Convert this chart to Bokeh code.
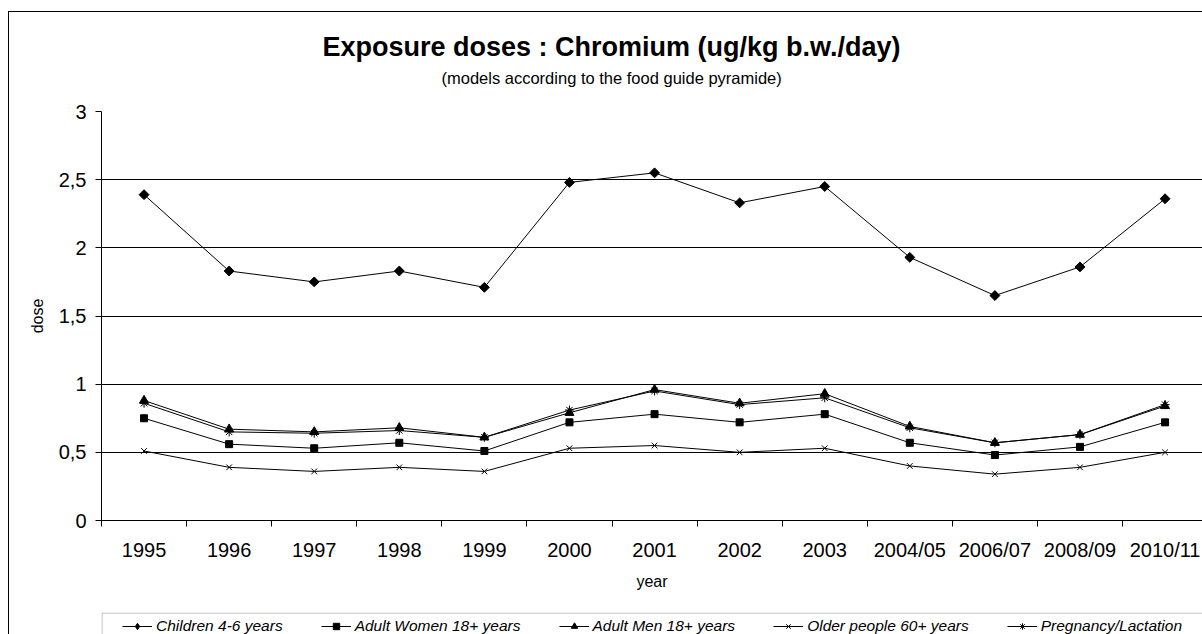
import math
from bokeh.plotting import figure
from bokeh.layouts import column
from bokeh.models import (Range1d, FixedTicker, Legend, LegendItem, Title,
                          BoxAnnotation)
from bokeh.embed import file_html
from bokeh.resources import INLINE

# ---- data ----
years = ["1995", "1996", "1997", "1998", "1999", "2000", "2001", "2002",
         "2003", "2004/05", "2006/07", "2008/09", "2010/11"]
children = [2.39, 1.83, 1.75, 1.83, 1.71, 2.48, 2.55, 2.33, 2.45, 1.93, 1.65, 1.86, 2.36]
women = [0.75, 0.56, 0.53, 0.57, 0.51, 0.72, 0.78, 0.72, 0.78, 0.57, 0.48, 0.54, 0.72]
men = [0.88, 0.67, 0.65, 0.68, 0.61, 0.79, 0.96, 0.86, 0.93, 0.69, 0.57, 0.63, 0.84]
older = [0.51, 0.39, 0.36, 0.39, 0.36, 0.53, 0.55, 0.50, 0.53, 0.40, 0.34, 0.39, 0.50]
pregnancy = [0.86, 0.65, 0.64, 0.66, 0.61, 0.81, 0.95, 0.85, 0.90, 0.68, 0.57, 0.63, 0.85]

series_names = ["Children 4-6 years", "Adult Women 18+ years", "Adult Men 18+ years",
                "Older people 60+ years", "Pregnancy/Lactation"]
y_ticks = [0, 0.5, 1, 1.5, 2, 2.5, 3]
y_tick_labels = ["0", "0,5", "1", "1,5", "2", "2,5", "3"]

title_text = "Exposure doses : Chromium (ug/kg b.w./day)"
subtitle_text = "(models according to the food guide pyramide)"

FONT = "Liberation Sans"

# category positions (center of each category slot)
x_pos = [i + 0.5 for i in range(len(years))]
x_bounds = [float(i) for i in range(len(years) + 1)]

p = figure(width=1193, height=600,
           x_range=Range1d(0, 12.94), y_range=Range1d(0, 3),
           output_backend="svg", toolbar_location=None, title=None,
           min_border_left=92, min_border_right=0,
           min_border_top=99, min_border_bottom=92)
p.outline_line_color = None
p.background_fill_color = "white"
p.border_fill_color = "white"

p.xgrid.grid_line_color = None
p.ygrid.grid_line_color = "black"
p.ygrid.grid_line_width = 1

# y axis
p.yaxis.ticker = FixedTicker(ticks=y_ticks)
p.yaxis.major_label_overrides = {float(k): v for k, v in zip(y_ticks, y_tick_labels)}
p.yaxis.major_label_text_font = FONT
p.yaxis.major_label_text_font_size = "20px"
p.yaxis.major_label_text_color = "black"
p.yaxis.major_tick_out = 6
p.yaxis.major_tick_in = 0
p.yaxis.minor_tick_line_color = None
p.yaxis.major_label_standoff = 9
p.yaxis.axis_label = "dose"
p.yaxis.axis_label_text_font = FONT
p.yaxis.axis_label_text_font_size = "16px"
p.yaxis.axis_label_text_font_style = "normal"
p.yaxis.axis_label_text_color = "black"
p.yaxis.axis_label_standoff = 10
p.yaxis.axis_line_color = "black"
p.yaxis.major_tick_line_color = "black"

# x axis
p.xaxis.ticker = FixedTicker(ticks=x_pos, minor_ticks=x_bounds)
p.xaxis.major_label_overrides = {float(k): v for k, v in zip(x_pos, years)}
p.xaxis.major_label_text_font = FONT
p.xaxis.major_label_text_font_size = "20px"
p.xaxis.major_label_text_color = "black"
p.xaxis.major_tick_line_color = None
p.xaxis.major_tick_out = 0
p.xaxis.major_tick_in = 0
p.xaxis.minor_tick_line_color = "black"
p.xaxis.minor_tick_out = 6
p.xaxis.minor_tick_in = 0
p.xaxis.major_label_standoff = 12
p.xaxis.axis_label = "year"
p.xaxis.axis_label_text_font = FONT
p.xaxis.axis_label_text_font_size = "16px"
p.xaxis.axis_label_text_font_style = "normal"
p.xaxis.axis_label_text_color = "black"
p.xaxis.axis_label_standoff = 9
p.xaxis.axis_line_color = "black"

# titles (stacked upward from the frame: spacer, subtitle, title)
p.add_layout(Title(text=" ", standoff=18, text_font=FONT, text_font_size="1px"), "above")
p.add_layout(Title(text=subtitle_text, align="left", offset=340,
                   vertical_align="bottom", standoff=8,
                   text_font=FONT, text_font_size="16.5px",
                   text_font_style="normal", text_color="black"), "above")
p.add_layout(Title(text=title_text, align="left", offset=221,
                   vertical_align="middle", standoff=0,
                   text_font=FONT, text_font_size="27px",
                   text_font_style="bold", text_color="black"), "above")

# series
markers = ["square", "square", "triangle", "x", "asterisk"]
angles = [math.pi / 4, 0, 0, 0, 0]
sizes = [7, 7, 9, 8, 9]
values = [children, women, men, older, pregnancy]
for vals, mk, sz, ang in zip(values, markers, sizes, angles):
    p.line(x_pos, vals, line_color="black", line_width=1)
    p.scatter(x_pos, vals, marker=mk, size=sz, angle=ang, fill_color="black",
              line_color="black", line_width=1)

# ---- legend strip below the chart (its frame is aligned with the chart frame) ----
q = figure(width=1193, height=22, x_range=Range1d(101, 1202), y_range=Range1d(634, 612),
           x_axis_type=None, y_axis_type=None,
           output_backend="svg", toolbar_location=None, title=None,
           min_border_left=0, min_border_right=0, min_border_top=0, min_border_bottom=0)
q.outline_line_color = None
q.background_fill_color = "white"
q.border_fill_color = "white"
q.xgrid.grid_line_color = None
q.ygrid.grid_line_color = None

legend_markers = ["diamond", "square", "triangle", "x", "asterisk"]
legend_sizes = [9, 6, 8, 7, 8]
items = []
for name, vals, mk, sz in zip(series_names, values, legend_markers, legend_sizes):
    # same series, plotted outside this strip's visible window; used as legend glyphs
    rl = q.line(x_pos, vals, line_color="black", line_width=1)
    rs = q.scatter(x_pos, vals, marker=mk, size=sz, fill_color="black",
                   line_color="black", line_width=1)
    items.append(LegendItem(label=name, renderers=[rl, rs]))

q.add_layout(BoxAnnotation(left=101.5, right=1400, top=612.5, bottom=700,
                           fill_color=None, fill_alpha=0,
                           line_color="black", line_width=1))

legend = Legend(items=items, orientation="horizontal", location=(21, -1),
                padding=6, spacing=38, label_standoff=4, glyph_width=30,
                glyph_height=16, label_height=16, margin=0,
                label_text_font=FONT, label_text_font_style="italic",
                label_text_font_size="15.5px", label_text_color="black",
                border_line_color=None, background_fill_alpha=0)
q.add_layout(legend)

layout = column(p, q, spacing=0,
                styles={"border-left": "1px solid black", "border-top": "1px solid black",
                        "position": "relative", "left": "8px", "top": "11px"})

open("out.html", "w").write(file_html(layout, INLINE))
